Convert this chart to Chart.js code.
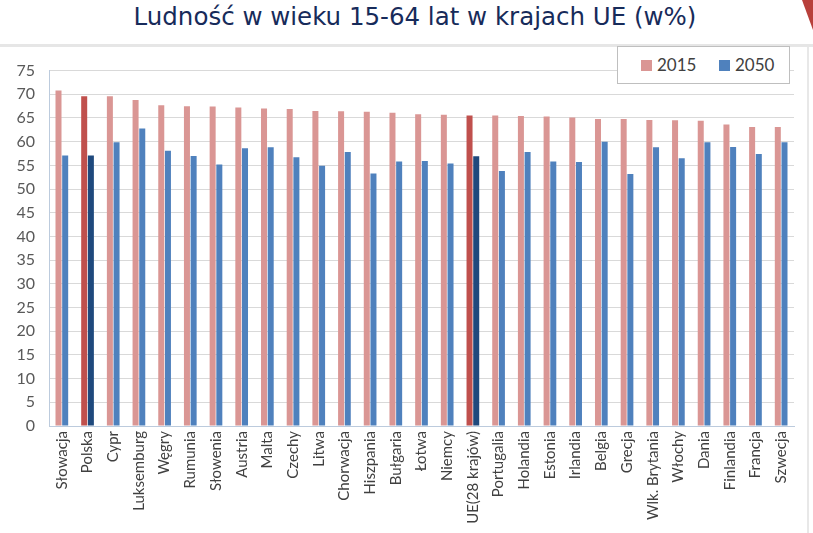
<!DOCTYPE html>
<html>
<head>
<meta charset="utf-8">
<script src="https://cdn.jsdelivr.net/npm/chart.js@4"></script>
<style>
  html, body { margin: 0; padding: 0; background: #fff; }
  body { width: 813px; height: 533px; position: relative; overflow: hidden; }
  #title {
    position: absolute; left: 0; top: 2px; width: 830px; text-align: center;
    font-family: 'DejaVu Sans', sans-serif; font-size: 24.5px; color: #172B5A;
  }
  #rule { position: absolute; left: 0; top: 44px; width: 813px; height: 3px; background: #E6E6E6; }
  #edge { position: absolute; left: 807px; top: 47px; width: 2px; height: 486px; background: #E8E8E8; }
  #corner {
    position: absolute; left: 802px; top: 0; width: 11px; height: 30px; background: #B8403B;
    clip-path: polygon(0 0, 100% 0, 100% 100%);
  }
  #wrap { position: absolute; left: 0; top: 47px; width: 808px; height: 486px; }
  #legend {
    position: absolute; left: 617px; top: 46px; width: 171px; height: 36px;
    border: 1px solid #BFBFBF; background: #fff;
    font-family: Lato, sans-serif; font-size: 17px; color: #404040;
  }
  .item { position: absolute; top: 8px; line-height: 19px; }
  .sw { display: inline-block; width: 11px; height: 11px; margin-right: 5px; vertical-align: 0; }
</style>
</head>
<body>
<div id="title">Ludność w wieku 15-64 lat w krajach UE (w%)</div>
<div id="rule"></div>
<div id="corner"></div>
<div id="wrap"><canvas id="c"></canvas></div>
<div id="edge"></div>
<div id="legend">
  <span class="item" style="left:23px"><span class="sw" style="background:#DA9694"></span>2015</span>
  <span class="item" style="left:101px"><span class="sw" style="background:#4F81BD"></span>2050</span>
</div>
<script>
const countries = ['Słowacja','Polska','Cypr','Luksemburg','Węgry','Rumunia','Słowenia','Austria','Malta','Czechy',
  'Litwa','Chorwacja','Hiszpania','Bułgaria','Łotwa','Niemcy','UE(28 krajów)','Portugalia','Holandia','Estonia',
  'Irlandia','Belgia','Grecja','Wlk. Brytania','Włochy','Dania','Finlandia','Francja','Szwecja'];
const values2015 = [70.8, 69.6, 69.6, 68.8, 67.7, 67.5, 67.4, 67.2, 67.0, 66.9,
  66.5, 66.4, 66.3, 66.1, 65.8, 65.7, 65.5, 65.5, 65.4, 65.3,
  65.1, 64.8, 64.8, 64.6, 64.5, 64.4, 63.6, 63.1, 63.1];
const values2050 = [57.1, 57.1, 59.9, 62.8, 58.1, 57.0, 55.2, 58.6, 58.8, 56.7,
  54.9, 57.8, 53.3, 55.8, 55.9, 55.4, 56.9, 53.8, 57.8, 55.8,
  55.7, 60.0, 53.2, 58.8, 56.5, 59.9, 58.9, 57.4, 59.9];
const highlighted = ['Polska', 'UE(28 krajów)'];
const yTicks = { min: 0, max: 75, step: 5 };

const col2015 = countries.map(c => highlighted.includes(c) ? '#C0504D' : '#DA9694');
const col2050 = countries.map(c => highlighted.includes(c) ? '#1F497D' : '#4F81BD');

new Chart(document.getElementById('c'), {
  type: 'bar',
  data: {
    labels: countries,
    datasets: [
      { label: '2015', data: values2015, backgroundColor: col2015, categoryPercentage: 0.52, barPercentage: 0.9 },
      { label: '2050', data: values2050, backgroundColor: col2050, categoryPercentage: 0.52, barPercentage: 0.9 }
    ]
  },
  options: {
    responsive: true, maintainAspectRatio: false, animation: false,
    layout: { padding: { top: 19, right: 14, left: 0, bottom: 0 } },
    plugins: { legend: { display: false }, tooltip: { enabled: false } },
    scales: {
      x: {
        grid: { display: false, drawTicks: false },
        border: { color: '#BCCBDD' },
        ticks: { color: '#404040', font: { family: 'Lato', size: 15 }, minRotation: 90, maxRotation: 90, autoSkip: false, padding: 5 },
        afterFit: s => { s.height = 107; }
      },
      y: {
        min: yTicks.min, max: yTicks.max,
        grid: { color: '#D9D9D9', drawTicks: false },
        border: { color: '#BCCBDD' },
        ticks: { stepSize: yTicks.step, color: '#595959', font: { family: 'Lato', size: 16 }, padding: 14 },
        afterFit: s => { s.width = 49; }
      }
    }
  }
});
</script>
</body>
</html>
